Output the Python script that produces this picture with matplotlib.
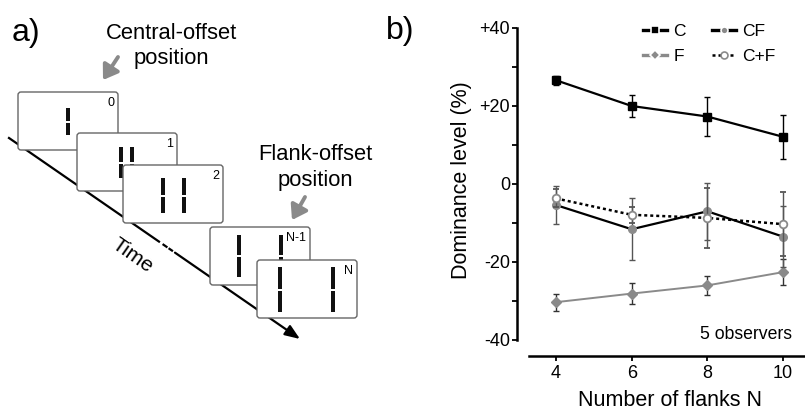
import matplotlib
matplotlib.use('Agg')
import matplotlib.pyplot as plt
from matplotlib.patches import FancyBboxPatch, Rectangle, FancyArrowPatch
from matplotlib.lines import Line2D

plt.rcParams['font.family'] = ['Liberation Sans', 'DejaVu Sans']

W, H = 805, 412
GRAY = '#8a8a8a'

# panel b data
flanks = [4, 6, 8, 10]
c_mean = [26.6, 20.0, 17.3, 12.1]
c_err = [1.2, 2.9, 5.1, 5.7]
cf_mean = [-5.4, -11.6, -7.0, -13.5]
cf_err = [4.8, 7.9, 7.3, 7.8]
f_mean = [-30.3, -28.1, -26.0, -22.6]
f_err = [2.2, 2.7, 2.5, 3.3]
cpf_mean = [-3.7, -7.9, -8.7, -10.3]
cpf_err = [2.3, 2.0, 7.6, 8.2]

ytick_vals = [-40, -20, 0, 20, 40]
ytick_labels = ['-40', '-20', '0', '+20', '+40']
yminor_vals = [-30, -10, 10, 30]

# panel a schematic, pixel coordinates
frame_left = [18, 77, 123, 210, 257]
frame_top = [92, 133, 165, 227, 260]
frame_labels = ['0', '1', '2', 'N-1', 'N']
bar_offsets = [[0], [-6, 5], [-10, 11], [-21, 21], [-27, 26]]
bar_top = [16, 14, 13, 8, 7]
bar_bottom = [43, 45, 48, 50, 52]
FRAME_W, FRAME_H = 100, 58
BAR_W = 4

time_start = (9, 138)
time_end = (300, 339)


def line_y(x):
    slope = (time_end[1] - time_start[1]) / (time_end[0] - time_start[0])
    return time_start[1] + (x - time_start[0]) * slope


fig = plt.figure(figsize=(W / 100, H / 100), dpi=100)

# ---- panel a ----
axa = fig.add_axes([0, 0, 1, 1])
axa.set_xlim(0, W)
axa.set_ylim(H, 0)
axa.axis('off')

# time line with a dash-dot break
axa.plot([time_start[0], 159], [time_start[1], line_y(159)], color='black', lw=1.6, zorder=1)
for x0, x1 in [(163.5, 166.5), (169.5, 172)]:
    axa.plot([x0, x1], [line_y(x0), line_y(x1)], color='black', lw=1.6, zorder=1)
axa.annotate('', xy=time_end, xytext=(175, line_y(175)),
             arrowprops=dict(arrowstyle='-|>,head_width=0.35,head_length=0.9',
                             color='black', lw=1.6, shrinkA=0, shrinkB=0),
             zorder=1)
axa.text(132, 256, 'Time', fontsize=15, rotation=-35, ha='center', va='center')

for i, (left, top) in enumerate(zip(frame_left, frame_top)):
    z = 2 + i
    axa.add_patch(FancyBboxPatch((left, top), FRAME_W, FRAME_H,
                                 boxstyle='round,pad=0,rounding_size=3',
                                 fc='white', ec='#666666', lw=1.0, zorder=z))
    cx = left + FRAME_W / 2
    t = top + bar_top[i]
    b = top + bar_bottom[i]
    mid = (t + b) / 2
    for off in bar_offsets[i]:
        x = cx + off - BAR_W / 2
        axa.add_patch(Rectangle((x, t), BAR_W, mid - 1 - t, fc='#111111', ec='none', zorder=z + 0.1))
        axa.add_patch(Rectangle((x, mid + 1), BAR_W, b - mid - 1, fc='#111111', ec='none', zorder=z + 0.1))
    axa.text(left + FRAME_W - 4, top + 11, frame_labels[i], fontsize=9,
             ha='right', va='center', zorder=z + 0.2)

axa.text(171, 33, 'Central-offset', fontsize=15.8, ha='center', va='center')
axa.text(171, 58, 'position', fontsize=15.8, ha='center', va='center')
axa.text(315, 155, 'Flank-offset', fontsize=15.8, ha='center', va='center')
axa.text(315, 180, 'position', fontsize=15.8, ha='center', va='center')

for tail, head in [((118, 57), (103, 80)), ((305, 197), (292, 220))]:
    axa.add_patch(FancyArrowPatch(tail, head,
                                  arrowstyle='-|>,head_width=0.4,head_length=0.6',
                                  mutation_scale=14, color=GRAY, lw=2.8,
                                  shrinkA=0, shrinkB=0, zorder=10))

fig.text(26 / W, 1 - 33 / H, 'a)', fontsize=23, ha='center', va='center')
fig.text(400 / W, 1 - 31 / H, 'b)', fontsize=23, ha='center', va='center')

# ---- panel b ----
axb = fig.add_axes([529 / W, 1 - 340 / H, (W - 529) / W, (340 - 28) / H])
axb.patch.set_alpha(0)
axb.set_xlim(3.286, 10.58)
axb.set_ylim(-40, 40)

axb.errorbar(flanks, c_mean, yerr=c_err, color='black', marker='s', ms=6,
             lw=1.6, ecolor='black', elinewidth=1, capsize=2.5, capthick=1, zorder=5)
axb.errorbar(flanks, f_mean, yerr=f_err, color=GRAY, marker='D', ms=5,
             lw=1.4, ecolor='#333333', elinewidth=1, capsize=2.5, capthick=1, zorder=3)
axb.errorbar(flanks, cf_mean, yerr=cf_err, color='black', marker='o', ms=5.5,
             mfc=GRAY, mec=GRAY, lw=1.6, ecolor='#555555', elinewidth=1,
             capsize=2.5, capthick=1, zorder=4)
axb.errorbar(flanks, cpf_mean, yerr=cpf_err, color='black', ls=(0, (1.2, 1.2)),
             marker='o', ms=5.5, mfc='white', mec=GRAY, mew=1.3, lw=1.8,
             ecolor='#555555', elinewidth=1, capsize=2.5, capthick=1, zorder=4.5)

for side in ['top', 'right']:
    axb.spines[side].set_visible(False)
axb.spines['left'].set_position(('outward', 12 * 0.72))
axb.spines['bottom'].set_position(('outward', 16 * 0.72))
axb.spines['left'].set_linewidth(1.8)
axb.spines['bottom'].set_linewidth(1.8)

axb.set_xticks(flanks)
axb.set_xticklabels([str(v) for v in flanks])
axb.set_yticks(ytick_vals)
axb.set_yticklabels(ytick_labels)
axb.set_yticks(yminor_vals, minor=True)
axb.tick_params(axis='both', which='both', direction='out', length=3.5, width=1.3,
                labelsize=13)
axb.tick_params(axis='y', which='both', pad=1.5)
axb.tick_params(axis='x', pad=3)

axb.text(10.24, -38.5, '5 observers', fontsize=12.7, ha='right', va='center')

fig.text(461 / W, 1 - 180 / H, 'Dominance level (%)', fontsize=15.5, rotation=90,
         ha='center', va='center')
fig.text(670 / W, 1 - 411 / H, 'Number of flanks N', fontsize=15.5,
         ha='center', va='bottom')

handles = [
    Line2D([], [], color='black', lw=2.4, marker='s', ms=5.5, mfc='black', mec='white', mew=1.2),
    Line2D([], [], color=GRAY, lw=2.4, marker='D', ms=5, mfc=GRAY, mec='white', mew=1.2),
    Line2D([], [], color='black', lw=2.4, marker='o', ms=5, mfc=GRAY, mec='white', mew=1.2),
    Line2D([], [], color='black', lw=1.8, ls=(0, (1.2, 1.2)), marker='o', ms=5,
           mfc='white', mec=GRAY, mew=1.2),
]
axb.legend(handles, ['C', 'F', 'CF', 'C+F'], ncol=2, frameon=False, fontsize=12.5,
           loc='upper left', bbox_to_anchor=(643 / W, 1 - 24 / H),
           bbox_transform=fig.transFigure, borderpad=0, borderaxespad=0,
           handlelength=1.4, handletextpad=0.35, columnspacing=1.5,
           labelspacing=0.55)

fig.savefig('out.png', dpi=100)
